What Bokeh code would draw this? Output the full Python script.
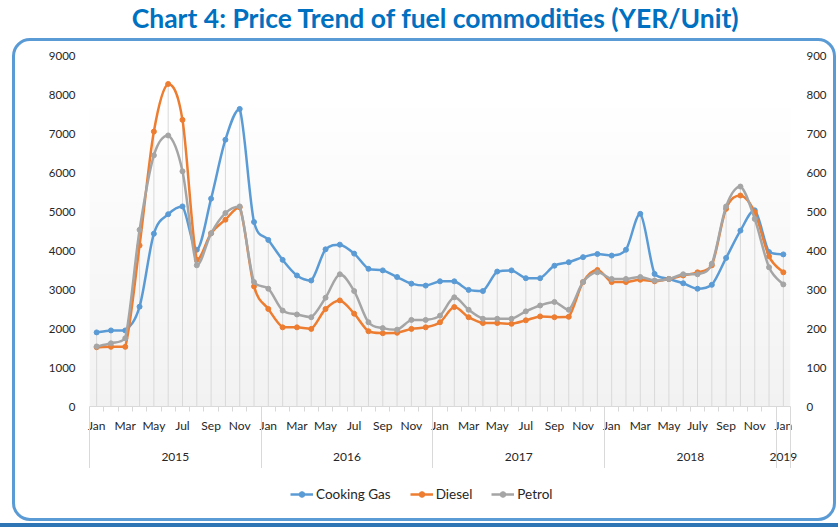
import numpy as np
from bokeh.plotting import figure
from bokeh.layouts import column
from bokeh.models import (Range1d, LinearAxis, FixedTicker, Legend, LegendItem,
                          Label, InlineStyleSheet)
from bokeh.embed import file_html
from bokeh.resources import INLINE

# ---------------- data ----------------
title_text = "Chart 4: Price Trend of fuel commodities (YER/Unit)"
tick_labels = ["Jan", "Mar", "May", "Jul", "Sep", "Nov",
               "Jan", "Mar", "May", "Jul", "Sep", "Nov",
               "Jan", "Mar", "May", "Jul", "Sep", "Nov",
               "Jan", "Mar", "May", "July", "Sep", "Nov",
               "Jan"]
years = ["2015", "2016", "2017", "2018", "2019"]

# Cooking Gas (left axis, YER)
cooking_gas = [1900, 1950, 1950, 2560, 4430, 4930, 5130, 4020, 5330, 6840, 7630, 4730,
               4270, 3760, 3360, 3230, 4030, 4150, 3920, 3530, 3490, 3320, 3150, 3100,
               3210, 3210, 2990, 2960, 3460, 3490, 3290, 3290, 3610, 3700, 3830, 3910,
               3870, 4020, 4940, 3400, 3270, 3160, 3020, 3120, 3810, 4510, 5030, 3960,
               3900]
# Diesel (right axis, YER)
diesel = [152, 153, 153, 413, 705, 827, 735, 376, 444, 479, 511, 308,
          250, 203, 203, 199, 250, 272, 238, 193, 188, 189, 199, 203,
          216, 255, 229, 214, 214, 212, 221, 231, 229, 230, 319, 350,
          319, 319, 325, 321, 327, 336, 344, 362, 507, 541, 498, 385,
          344]
# Petrol (right axis, YER)
petrol = [154, 162, 175, 453, 644, 695, 603, 362, 444, 496, 513, 319,
          302, 246, 236, 229, 279, 339, 296, 216, 201, 197, 222, 222,
          233, 280, 248, 225, 225, 225, 244, 259, 268, 248, 319, 344,
          327, 327, 332, 323, 327, 339, 339, 366, 513, 564, 481, 357,
          313]
names = ["Cooking Gas", "Diesel", "Petrol"]
colors = ["#5B9BD5", "#ED7D31", "#A5A5A5"]

n = len(cooking_gas)
x = list(range(n))
lab_col = "#262626"
BL, BR = 89, 48   # side borders shared by all strips


def bare(fig):
    fig.grid.visible = False
    fig.outline_line_color = None
    fig.background_fill_color = None
    fig.border_fill_color = None


# ---------------- title strip ----------------
tf = figure(frame_width=701, frame_height=38, output_backend="svg", toolbar_location=None,
            x_range=Range1d(0, 1), y_range=Range1d(0, 1), x_axis_type=None, y_axis_type=None,
            min_border_left=BL, min_border_right=BR, min_border_top=0, min_border_bottom=0)
bare(tf)
tf.add_layout(Label(x=0.494, y=0.54, text=title_text, text_align="center", text_baseline="middle",
                    text_font="Lato", text_font_style="bold", text_font_size="26.5px",
                    text_color="#0070C0"))

# ---------------- main figure ----------------
p = figure(frame_width=701, frame_height=351, output_backend="svg", toolbar_location=None,
           x_range=Range1d(-0.5, n - 0.5), y_range=Range1d(0, 9000),
           x_axis_type=None, y_axis_type=None,
           min_border_left=BL, min_border_right=BR, min_border_top=17, min_border_bottom=62)
p.extra_y_ranges = {"right": Range1d(0, 900)}
bare(p)
p.background_fill_color = "white"

# gradient plot-area background
N = 200
img = np.empty((N, 1), dtype=np.uint32)
view = img.view(dtype=np.uint8).reshape((N, 1, 4))
for r in range(N):
    t = min(1.0, r / (N * 0.88))
    c = int(round(242 + (255 - 242) * t))
    view[r, 0, :] = [c, c, c, 255]
p.image_rgba(image=[img], x=-0.5, y=0, dw=n, dh=9000, level="underlay")

# drop lines
scaled_d = [v * 10 for v in diesel]
scaled_p = [v * 10 for v in petrol]
drop_top = [max(a, b, c) for a, b, c in zip(cooking_gas, scaled_d, scaled_p)]
p.segment(x0=x, y0=[0] * n, x1=x, y1=drop_top, line_color="#d9d9d9", line_width=1)


def smooth(xs, ys):
    k = len(xs)
    x0, y0, x1, y1, cx0, cy0, cx1, cy1 = [], [], [], [], [], [], [], []
    for i in range(k - 1):
        xp, yp = (xs[i - 1], ys[i - 1]) if i > 0 else (xs[i], ys[i])
        xn, yn = (xs[i + 2], ys[i + 2]) if i + 2 < k else (xs[i + 1], ys[i + 1])
        lo, hi = min(ys[i], ys[i + 1]), max(ys[i], ys[i + 1])
        x0.append(xs[i]); y0.append(ys[i]); x1.append(xs[i + 1]); y1.append(ys[i + 1])
        cx0.append(xs[i] + (xs[i + 1] - xp) / 6.0)
        cy0.append(min(hi, max(lo, ys[i] + (ys[i + 1] - yp) / 6.0)))
        cx1.append(xs[i + 1] - (xn - xs[i]) / 6.0)
        cy1.append(min(hi, max(lo, ys[i + 1] - (yn - ys[i]) / 6.0)))
    return dict(x0=x0, y0=y0, x1=x1, y1=y1, cx0=cx0, cy0=cy0, cx1=cx1, cy1=cy1)


all_series = [cooking_gas, diesel, petrol]
for ys, col, rng in zip(all_series, colors, ["default", "right", "right"]):
    p.bezier(line_color=col, line_width=2.5, y_range_name=rng, **smooth(x, ys))
    p.scatter(x=x, y=ys, size=5, marker="circle", fill_color=col, line_color=col,
              y_range_name=rng)

# ---------------- axes ----------------
yl = LinearAxis(ticker=FixedTicker(ticks=list(range(0, 9001, 1000))),
                axis_line_color=None, major_tick_line_color=None, minor_tick_line_color=None,
                major_label_text_font="Lato", major_label_text_font_size="11.5px",
                major_label_text_color=lab_col, major_label_standoff=8)
p.add_layout(yl, "left")
yr = LinearAxis(y_range_name="right", ticker=FixedTicker(ticks=list(range(0, 901, 100))),
                axis_line_color=None, major_tick_line_color=None, minor_tick_line_color=None,
                major_label_text_font="Lato", major_label_text_font_size="11.5px",
                major_label_text_color=lab_col, major_label_standoff=10)
p.add_layout(yr, "right")

month_ticks = list(range(0, n, 2))
xa1 = LinearAxis(ticker=FixedTicker(ticks=month_ticks, minor_ticks=[i - 0.5 for i in range(n + 1)]),
                 major_label_overrides={t: lab for t, lab in zip(month_ticks, tick_labels)},
                 axis_line_color="#d9d9d9", axis_line_width=1,
                 major_tick_line_color=None, major_tick_in=0, major_tick_out=0,
                 minor_tick_line_color="#d9d9d9", minor_tick_in=0, minor_tick_out=5,
                 major_label_text_font="Lato", major_label_text_font_size="12px",
                 major_label_text_color=lab_col, major_label_standoff=6)
p.add_layout(xa1, "below")

year_centers = [5.5, 17.5, 29.5, 41.5, 48]
xa2 = LinearAxis(ticker=FixedTicker(ticks=year_centers, minor_ticks=[-0.5, 11.5, 23.5, 35.5, 47.5, 48.5]),
                 major_label_overrides={t: y for t, y in zip(year_centers, years)},
                 axis_line_color=None, major_tick_line_color=None, major_tick_in=0, major_tick_out=0,
                 minor_tick_line_color="#d9d9d9", minor_tick_in=27, minor_tick_out=35,
                 major_label_text_font="Lato", major_label_text_font_size="12px",
                 major_label_text_color=lab_col, major_label_standoff=-18)
p.add_layout(xa2, "below")

# ---------------- legend strip ----------------
lf = figure(frame_width=701, frame_height=52, output_backend="svg", toolbar_location=None,
            x_range=Range1d(-0.5, n - 0.5), y_range=Range1d(0, 1),
            x_axis_type=None, y_axis_type=None,
            min_border_left=BL, min_border_right=BR, min_border_top=0, min_border_bottom=0)
bare(lf)
items = []
for name, ys, col in zip(names, all_series, colors):
    # same series, but outside this strip's (0..1) y-range: only the legend glyphs show
    ln = lf.line(x=x, y=ys, line_color=col, line_width=2.5)
    sc = lf.scatter(x=x, y=ys, size=5, marker="circle", fill_color=col, line_color=col)
    items.append(LegendItem(label=name, renderers=[ln, sc]))
legend = Legend(items=items, orientation="horizontal", location=(201, 18),
                border_line_color=None, background_fill_alpha=0,
                label_text_font="Lato", label_text_font_size="13.5px", label_text_color=lab_col,
                glyph_width=23, glyph_height=14, label_standoff=3, spacing=19,
                padding=2, margin=0)
lf.add_layout(legend, "center")

css = """
:host { position: relative; }
:host::after { content: ""; position: absolute; left: 12px; top: 38px; width: 824px; height: 483px;
  box-sizing: border-box; border: 3px solid #5B9BD5; border-radius: 18px; pointer-events: none; }
:host::before { content: ""; position: absolute; left: 0px; top: 523px; width: 838px; height: 4px;
  background: #2E75B6; pointer-events: none; }
"""
layout = column(tf, p, lf, spacing=0, stylesheets=[InlineStyleSheet(css=css)])

open("out.html", "w").write(file_html(layout, INLINE))
